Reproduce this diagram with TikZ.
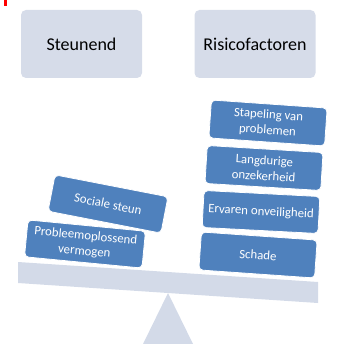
\documentclass[tikz,border=0pt]{standalone}
\usepackage{fontspec}
\setmainfont{Carlito}
\definecolor{topfill}{HTML}{D6DCE9}
\definecolor{beamfill}{HTML}{D3DAE8}
\definecolor{boxblue}{HTML}{4F81BD}
\definecolor{markred}{HTML}{FF0000}
\tikzset{
  topbox/.style={fill=topfill, draw=none, rounded corners=5pt, minimum width=121pt, minimum height=68pt, inner sep=0pt, font=\fontsize{18}{20}\selectfont, text=black},
  bluebox/.style={fill=boxblue, draw=white, line width=0.8pt, rounded corners=4pt, minimum width=116pt, minimum height=37pt, inner sep=0pt, align=center, text=white, font=\fontsize{12.8}{15.5}\selectfont},
}
\begin{document}
\begin{tikzpicture}[x=1pt,y=-1pt]
\useasboundingbox (0,0) rectangle (338,344);
\fill[markred] (4,0) rectangle (7,6);
\node[topbox] (steunend) at (81.5,44) {Steunend};
\node[topbox] (risico) at (255,44) {Risicofactoren};
\fill[beamfill] (168,293) -- (143,344) -- (193,344) -- cycle;
\fill[beamfill] (18,262) -- (318,282) -- (318,303) -- (18,283) -- cycle;
\node[bluebox, minimum width=118pt, rotate=-5.5] (probleem) at (85,244) {Probleemoplossend\\vermogen};
\node[bluebox, minimum width=115pt, rotate=-11] (sociale) at (108,204) {Sociale steun};
\node[bluebox, minimum height=38pt, rotate=-4] (schade) at (258,255) {Schade};
\node[bluebox, rotate=-3] (ervaren) at (261,212) {Ervaren onveiligheid};
\node[bluebox, minimum height=38pt, rotate=-3.5] (langdurig) at (264,168) {Langdurige\\onzekerheid};
\node[bluebox, minimum height=38pt, rotate=-4] (stapeling) at (268,123) {Stapeling van\\problemen};
\end{tikzpicture}
\end{document}
